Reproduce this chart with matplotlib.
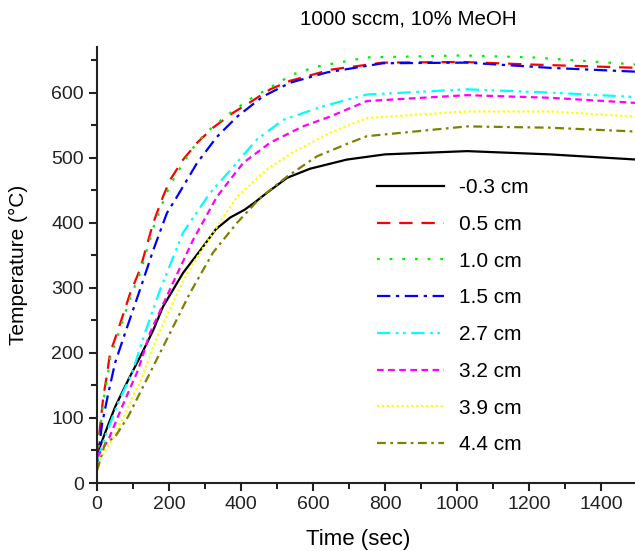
import matplotlib.pyplot as plt
from matplotlib.ticker import MultipleLocator

plt.rcParams['font.family'] = ['Liberation Sans', 'DejaVu Sans']

# Time (sec) and temperature (°C) per thermocouple position
t_m03 = [0, 4, 22, 50, 86, 125, 156, 183, 239, 294, 330, 370, 410, 440, 472, 528, 592, 694, 800, 1028, 1258, 1500]
T_m03 = [46, 50, 77, 117, 158, 200, 235, 271, 323, 363, 390, 408, 420, 432, 446, 469, 483, 497, 505, 510, 505, 497]

t_05 = [0, 8, 17, 28, 36, 58, 92, 119, 156, 183, 203, 239, 278, 322, 378, 425, 481, 536, 583, 647, 794, 1017, 1211, 1500]
T_05 = [40, 86, 132, 169, 200, 235, 292, 328, 400, 440, 466, 497, 523, 546, 569, 585, 605, 618, 625, 635, 646, 647, 643, 638]

t_10 = [0, 8, 17, 28, 36, 58, 92, 119, 156, 183, 203, 239, 278, 322, 378, 425, 481, 544, 611, 750, 1017, 1211, 1500]
T_10 = [35, 80, 125, 160, 192, 228, 285, 322, 392, 432, 458, 492, 524, 548, 572, 590, 608, 628, 640, 654, 657, 654, 643]

t_15 = [0, 14, 31, 50, 78, 119, 156, 194, 222, 250, 278, 333, 389, 461, 536, 639, 794, 1028, 1258, 1500]
T_15 = [30, 92, 138, 185, 231, 297, 358, 415, 440, 466, 492, 532, 563, 594, 615, 631, 645, 646, 638, 632]

t_27 = [0, 22, 58, 97, 133, 175, 239, 314, 369, 444, 517, 628, 750, 1028, 1258, 1500]
T_27 = [35, 71, 123, 169, 231, 297, 385, 446, 480, 528, 558, 579, 597, 605, 600, 593]

t_32 = [0, 31, 69, 114, 147, 211, 267, 333, 406, 481, 572, 647, 750, 1028, 1258, 1500]
T_32 = [40, 66, 117, 174, 231, 308, 374, 440, 492, 523, 548, 563, 587, 596, 592, 584]

t_39 = [0, 42, 86, 125, 169, 250, 314, 389, 472, 544, 647, 750, 1028, 1258, 1500]
T_39 = [30, 66, 117, 163, 228, 323, 378, 440, 482, 508, 538, 561, 571, 571, 563]

t_44 = [0, 3, 22, 50, 86, 133, 203, 258, 322, 389, 453, 528, 611, 703, 750, 1028, 1258, 1500]
T_44 = [20, 25, 61, 71, 102, 154, 231, 292, 354, 400, 438, 471, 502, 523, 533, 548, 546, 540]

labels = ['-0.3 cm', '0.5 cm', '1.0 cm', '1.5 cm', '2.7 cm', '3.2 cm', '3.9 cm', '4.4 cm']

fig = plt.figure(figsize=(6.35, 5.51), dpi=100)
ax = fig.add_axes([0.153, 0.1234, 0.847, 0.7913])

ax.plot(t_m03, T_m03, color='black', lw=1.6, label=labels[0])
ax.plot(t_05, T_05, color='red', lw=1.6, dashes=(6, 4), label=labels[1])
ax.plot(t_10, T_10, color='#00ee00', lw=1.6, dashes=(1.2, 4.5), label=labels[2])
ax.plot(t_15, T_15, color='blue', lw=1.6, dashes=(6, 2.5, 1.5, 2.5), label=labels[3])
ax.plot(t_27, T_27, color='cyan', lw=1.6, dashes=(6, 2.5, 1.2, 2, 1.2, 2.5), label=labels[4])
ax.plot(t_32, T_32, color='magenta', lw=1.6, dashes=(3, 2), label=labels[5])
ax.plot(t_39, T_39, color='yellow', lw=1.6, dashes=(1, 1.2), label=labels[6])
ax.plot(t_44, T_44, color='#808000', lw=1.6, dashes=(4, 2, 1.2, 2), label=labels[7])

ax.set_xlim(0, 1495)
ax.set_ylim(0, 670)
ax.xaxis.set_major_locator(MultipleLocator(200))
ax.xaxis.set_minor_locator(MultipleLocator(100))
ax.yaxis.set_major_locator(MultipleLocator(100))
ax.yaxis.set_minor_locator(MultipleLocator(50))
ax.spines['top'].set_visible(False)
ax.spines['right'].set_visible(False)
for s in ['left', 'bottom']:
    ax.spines[s].set_linewidth(1.5)
    ax.spines[s].set_color('#222222')
ax.tick_params(which='major', direction='out', length=6, width=1.5, labelsize=14, colors='#222222')
ax.tick_params(which='minor', direction='out', length=4, width=1.5, colors='#222222')

ax.set_xlabel('Time (sec)', fontsize=16)
ax.set_ylabel('Temperature (°C)', fontsize=15)
ax.xaxis.set_label_coords(0.485, -0.105)
ax.yaxis.set_label_coords(-0.128, 0.5)
fig.text(0.643, 0.965, '1000 sccm, 10% MeOH', ha='center', va='center', fontsize=14.8)

ax.legend(loc='upper left', bbox_to_anchor=(0.505, 0.718), frameon=False, fontsize=15,
          handlelength=3.2, labelspacing=0.85, handletextpad=0.72, borderaxespad=0)

fig.savefig('out.png', dpi=100)
